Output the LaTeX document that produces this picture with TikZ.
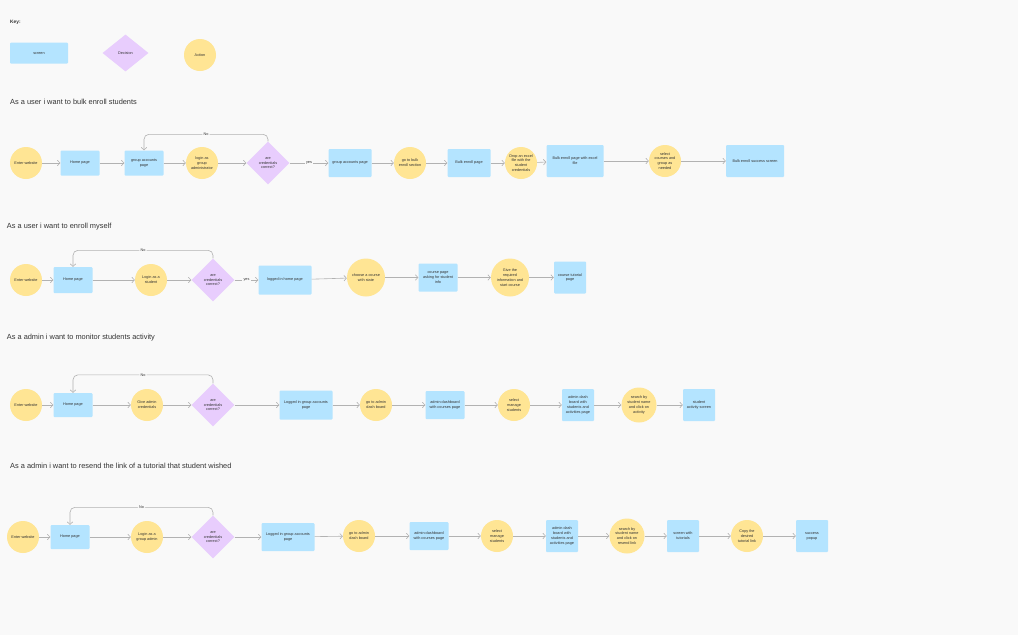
\documentclass[tikz,border=0pt]{standalone}
\usepackage{fontspec}
\setmainfont{Liberation Sans}
\usepackage{xcolor}
\usepackage{tikz}
\usetikzlibrary{shapes.geometric}
\usetikzlibrary{arrows.meta}
\definecolor{screenblue}{RGB}{180,228,255}
\definecolor{decisionpurple}{RGB}{232,205,253}
\definecolor{actionyellow}{RGB}{255,229,148}
\definecolor{bggray}{RGB}{249,249,249}
\definecolor{linegray}{RGB}{178,178,178}
\definecolor{textgray}{RGB}{51,51,51}
\newcommand{\nodefont}{\fontsize{3.8}{4.8}\selectfont}
\newcommand{\titlefont}{\fontsize{7.4}{9}\selectfont}

\begin{document}
\begin{tikzpicture}[x=1pt, y=-1pt, node distance=60pt, every node/.style={text=textgray}]
    \tikzstyle{screen} = [rectangle, rounded corners=1pt, minimum width=39pt, minimum height=26pt, inner sep=1pt, align=center, fill=screenblue, font=\nodefont]
    \tikzstyle{action} = [circle, minimum size=32pt, inner sep=0pt, align=center, fill=actionyellow, font=\nodefont]
    \tikzstyle{decision} = [diamond, aspect=1, minimum width=43pt, minimum height=43pt, inner sep=0pt, align=center, fill=decisionpurple, font=\nodefont]
    \tikzstyle{line} = [draw=linegray, line width=0.6pt, -{Straight Barb[length=2.5pt, width=5.5pt]}]
    \tikzstyle{answer} = [fill=bggray, inner sep=1.2pt, font=\nodefont]
    \tikzstyle{title} = [anchor=west, inner sep=0pt, font=\titlefont]

    \fill [bggray] (0,0) rectangle (1018,635);

    % Key
    \node [anchor=west, inner sep=0pt, font=\fontsize{4.8}{6}\selectfont\bfseries] (key) at (10,22) {Key:};
    \node [screen, minimum width=58pt, minimum height=21pt] (key_screen) at (39,53) {screen};
    \node [decision, minimum width=46pt, minimum height=37pt] (key_decision) at (125.5,53) {Decision};
    \node [action] (key_action) at (200,55) {Action};

    % As a user i want to bulk enroll students
    \node [title] (bulk_title) at (10,102) {As a user i want to bulk enroll students};
    \node [action] (bulk_enter) at (26,163) {Enter website};
    \node [screen, right of=bulk_enter, xshift=-6pt, minimum height=25pt] (bulk_home) {Home page};
    \node [screen, right of=bulk_home, xshift=4pt, minimum height=25pt] (bulk_grp) {group accounts\\page};
    \node [action, right of=bulk_grp, xshift=-2pt] (bulk_login) {login as\\group\\administrator};
    \node [decision, right of=bulk_login, xshift=6pt] (bulk_dec) {are\\credentials\\correct?};
    \node [screen, right of=bulk_dec, xshift=22pt, minimum width=43pt, minimum height=28pt] (bulk_grp2) {group accounts page};
    \node [action, right of=bulk_grp2] (bulk_section) {go to bulk\\enroll section};
    \node [screen, right of=bulk_section, xshift=-1pt, minimum width=43pt, minimum height=28pt] (bulk_page) {Bulk enroll page};
    \node [action, right of=bulk_page, xshift=-8pt] (bulk_drop) {Drop an excel\\file with the\\student\\credentials};
    \node [screen, right of=bulk_drop, xshift=-6pt, yshift=2pt, minimum width=57pt, minimum height=32pt] (bulk_excel) {Bulk enroll page with excel\\file};
    \node [action, right of=bulk_excel, xshift=30pt] (bulk_select) {select\\courses and\\group as\\needed};
    \node [screen, right of=bulk_select, xshift=30pt, minimum width=58pt, minimum height=32pt] (bulk_success) {Bulk enroll success screen};

    \draw [line] (bulk_enter) -- (bulk_home);
    \draw [line] (bulk_home) -- (bulk_grp);
    \draw [line] (bulk_grp) -- (bulk_login);
    \draw [line] (bulk_login) -- (bulk_dec);
    \draw [line] (bulk_dec) -- node [answer] {yes} (bulk_grp2);
    \draw [line, rounded corners=5pt] (bulk_dec.north) -- ++(0,-7) -| node [answer, pos=0.25] {No} (bulk_grp.north);
    \draw [line] (bulk_grp2) -- (bulk_section);
    \draw [line] (bulk_section) -- (bulk_page);
    \draw [line] (bulk_page) -- (bulk_drop);
    \draw [line] (bulk_drop) -- (bulk_excel);
    \draw [line] (bulk_excel) -- (bulk_select);
    \draw [line] (bulk_select) -- (bulk_success);

    % As a user i want to enroll myself
    \node [title] (self_title) at (6.7,227) {As a user i want to enroll myself};
    \node [action] (self_enter) at (26,280) {Enter website};
    \node [screen, right of=self_enter, xshift=-13pt] (self_home) {Home page};
    \node [action, right of=self_home, xshift=18pt] (self_login) {Login as a\\student};
    \node [decision, right of=self_login, xshift=2pt] (self_dec) {are\\credentials\\correct?};
    \node [screen, right of=self_dec, xshift=12pt, minimum width=53pt, minimum height=29pt] (self_logged) {logged in home page};
    \node [action, right of=self_logged, xshift=21pt, yshift=2.5pt, minimum size=38pt] (self_choose) {choose a course\\with state};
    \node [screen, right of=self_choose, xshift=12pt, minimum height=28pt] (self_course) {course page\\asking for  student\\info};
    \node [action, right of=self_course, xshift=12pt, minimum size=38pt] (self_give) {Give the\\required\\information and\\start course};
    \node [screen, right of=self_give, minimum width=32pt, minimum height=32pt] (self_tutorial) {course tutorial\\page};

    \draw [line] (self_enter) -- (self_home);
    \draw [line] (self_home) -- (self_login);
    \draw [line] (self_login) -- (self_dec);
    \draw [line] (self_dec) -- node [answer] {yes} (self_logged);
    \draw [line, rounded corners=5pt] (self_dec.north) -- ++(0,-8) -| node [answer, pos=0.25] {No} (self_home.north);
    \draw [line] (self_logged) -- (self_choose);
    \draw [line] (self_choose) -- (self_course);
    \draw [line] (self_course) -- (self_give);
    \draw [line] (self_give) -- (self_tutorial);

    % As a admin i want to monitor students activity
    \node [title] (monitor_title) at (6.7,337.5) {As a admin i want to monitor students activity};
    \node [action] (monitor_enter) at (26,405) {Enter website};
    \node [screen, right of=monitor_enter, xshift=-13pt, minimum height=24pt] (monitor_home) {Home page};
    \node [action, right of=monitor_home, xshift=14pt] (monitor_give) {Give admin\\credentials};
    \node [decision, right of=monitor_give, xshift=6pt] (monitor_dec) {are\\credentials\\correct?};
    \node [screen, right of=monitor_dec, xshift=33pt, minimum width=53pt, minimum height=29pt] (monitor_logged) {Logged in group accounts\\page};
    \node [action, right of=monitor_logged, xshift=10pt] (monitor_go) {go to admin\\dash board};
    \node [screen, right of=monitor_go, xshift=9pt, minimum height=28pt] (monitor_admin) {admin dashboard\\with courses page};
    \node [action, right of=monitor_admin, xshift=9pt] (monitor_select) {select\\manage\\students};
    \node [screen, right of=monitor_select, xshift=4pt, minimum width=32pt, minimum height=32pt] (monitor_students) {admin dash\\board with\\students and\\activities page};
    \node [action, right of=monitor_students, xshift=1pt, minimum size=35pt] (monitor_search) {search by\\student name\\and click on\\activity};
    \node [screen, right of=monitor_search, minimum width=32pt, minimum height=32pt] (monitor_activity) {student\\activity screen};

    \draw [line] (monitor_enter) -- (monitor_home);
    \draw [line] (monitor_home) -- (monitor_give);
    \draw [line] (monitor_give) -- (monitor_dec);
    \draw [line] (monitor_dec) -- (monitor_logged);
    \draw [line, rounded corners=5pt] (monitor_dec.north) -- ++(0,-8.5) -| node [answer, pos=0.25] {No} (monitor_home.north);
    \draw [line] (monitor_logged) -- (monitor_go);
    \draw [line] (monitor_go) -- (monitor_admin);
    \draw [line] (monitor_admin) -- (monitor_select);
    \draw [line] (monitor_select) -- (monitor_students);
    \draw [line] (monitor_students) -- (monitor_search);
    \draw [line] (monitor_search) -- (monitor_activity);

    % As a admin i want to resend the link of a tutorial that student wished
    \node [title] (resend_title) at (10,466) {As a admin i want to resend the link of a tutorial that student wished};
    \node [action] (resend_enter) at (23,537) {Enter website};
    \node [screen, right of=resend_enter, xshift=-13pt, minimum height=24pt] (resend_home) {Home page};
    \node [action, right of=resend_home, xshift=17pt] (resend_login) {Login as a\\group admin};
    \node [decision, right of=resend_login, xshift=6pt] (resend_dec) {are\\credentials\\correct?};
    \node [screen, right of=resend_dec, xshift=15pt, minimum width=53pt, minimum height=28pt] (resend_logged) {Logged in group accounts\\page};
    \node [action, right of=resend_logged, xshift=11pt, yshift=1pt] (resend_go) {go to admin\\dash board};
    \node [screen, right of=resend_go, xshift=10pt, minimum height=28pt] (resend_admin) {admin dashboard\\with courses page};
    \node [action, right of=resend_admin, xshift=8pt] (resend_select) {select\\manage\\students};
    \node [screen, right of=resend_select, xshift=5pt, minimum width=32pt, minimum height=32pt] (resend_students) {admin dash\\board with\\students and\\activities page};
    \node [action, right of=resend_students, xshift=5pt, minimum size=35pt] (resend_search) {search by\\student name\\and click on\\resend link};
    \node [screen, right of=resend_search, xshift=-4pt, minimum width=32pt, minimum height=32pt] (resend_tutorials) {screen with\\tutorials};
    \node [action, right of=resend_tutorials, xshift=4pt] (resend_copy) {Copy the\\desired\\tutorial link};
    \node [screen, right of=resend_copy, xshift=5pt, minimum width=32pt, minimum height=32pt] (resend_popup) {success\\popup};

    \draw [line] (resend_enter) -- (resend_home);
    \draw [line] (resend_home) -- (resend_login);
    \draw [line] (resend_login) -- (resend_dec);
    \draw [line] (resend_dec) -- (resend_logged);
    \draw [line, rounded corners=5pt] (resend_dec.north) -- ++(0,-8) -| node [answer, pos=0.25] {No} (resend_home.north);
    \draw [line] (resend_logged) -- (resend_go);
    \draw [line] (resend_go) -- (resend_admin);
    \draw [line] (resend_admin) -- (resend_select);
    \draw [line] (resend_select) -- (resend_students);
    \draw [line] (resend_students) -- (resend_search);
    \draw [line] (resend_search) -- (resend_tutorials);
    \draw [line] (resend_tutorials) -- (resend_copy);
    \draw [line] (resend_copy) -- (resend_popup);
\end{tikzpicture}
\end{document}
